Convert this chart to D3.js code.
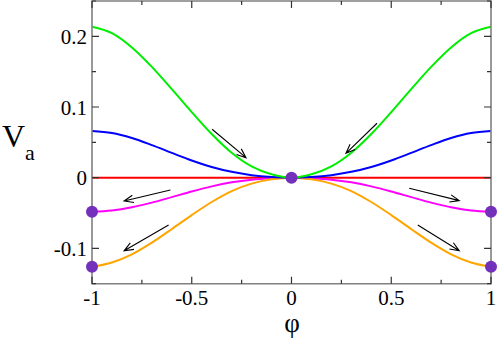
<!DOCTYPE html>
<html><head><meta charset="utf-8">
<script src="https://cdn.jsdelivr.net/npm/d3@7"></script>
<style>body{margin:0;background:#fff}</style>
</head><body>
<svg id="c" width="498" height="341"></svg>
<script>
const phi = [-1,-0.9,-0.8,-0.7,-0.6,-0.5,-0.4,-0.3,-0.2,-0.1,0,0.1,0.2,0.3,0.4,0.5,0.6,0.7,0.8,0.9,1];
const green   = [0.2137,0.2045,0.1843,0.1568,0.1253,0.0928,0.0618,0.0353,0.016,0.0048,0,0.0048,0.016,0.0353,0.0618,0.0928,0.1253,0.1568,0.1843,0.2045,0.2137];
const blue    = [0.066,0.0632,0.0561,0.0461,0.0351,0.0244,0.0152,0.0083,0.0036,0.001,0,0.001,0.0036,0.0083,0.0152,0.0244,0.0351,0.0461,0.0561,0.0632,0.066];
const red     = [0,0,0,0,0,0,0,0,0,0,0,0,0,0,0,0,0,0,0,0,0];
const magenta = [-0.0481,-0.0464,-0.0419,-0.0353,-0.0275,-0.0195,-0.0123,-0.0066,-0.0028,-0.0008,0,-0.0008,-0.0028,-0.0066,-0.0123,-0.0195,-0.0275,-0.0353,-0.0419,-0.0464,-0.0481];
const orange  = [-0.126,-0.1199,-0.1084,-0.0919,-0.0727,-0.0529,-0.0344,-0.0189,-0.0084,-0.0022,0,-0.0022,-0.0084,-0.0189,-0.0344,-0.0529,-0.0727,-0.0919,-0.1084,-0.1199,-0.126];
const dotX = [0,-1,-1,1,1];
const dotY = [0,-0.0481,-0.126,-0.0481,-0.126];
// arrows: [x1,y1,x2,y2] in data units (tail -> head)
const arrows = [
  [-0.398,0.0685,-0.228,0.0283],
  [0.4286,0.077,0.273,0.0345],
  [-0.607,-0.0174,-0.839,-0.033],
  [-0.616,-0.0669,-0.839,-0.1035],
  [0.590,-0.015,0.841,-0.0325],
  [0.633,-0.0669,0.841,-0.1035]
];
const xTicks = [-1,-0.5,0,0.5,1];
const xTickLabels = ["-1","-0.5","0","0.5","1"];
const xMinor = [-0.75,-0.25,0.25,0.75];
const yTicks = [-0.1,0,0.1,0.2];
const yTickLabels = ["-0.1","0","0.1","0.2"];
const yMinor = [-0.15,-0.05,0.05,0.15,0.25];

const svg = d3.select("#c");
const L=92, R=491, T=1, B=283.7;
const x = d3.scaleLinear().domain([-1,1]).range([L,R]);
const y = d3.scaleLinear().domain([-0.15,0.25]).range([B,T]);

function lab(px,py,txt,size,anchor){
  return svg.append("text").attr("x",px).attr("y",py).attr("font-size",size)
    .attr("text-anchor",anchor||"start").style("font-family",'"Liberation Serif"').text(txt);
}
xTicks.forEach((t,i)=>lab(x(t),305,xTickLabels[i],21,"middle"));
yTicks.forEach((t,i)=>lab(87,y(t)+7.5,yTickLabels[i],21,"end"));
lab(2,147,"V",32);
lab(25,160,"a",22);
lab(292,332,"φ",27,"middle");

const series = [
  {v:red,c:"#ff0000"},
  {v:magenta,c:"#ff00ff"},
  {v:orange,c:"#ffa500"},
  {v:blue,c:"#0000ff"},
  {v:green,c:"#00ee00"}
];
const line = d3.line().x((d,i)=>x(phi[i])).y(d=>y(d)).curve(d3.curveMonotoneX);
series.forEach(s=>{
  svg.append("path").attr("d",line(s.v)).attr("fill","none").attr("stroke",s.c).attr("stroke-width",2);
});

arrows.forEach(a=>{
  const x1=x(a[0]),y1=y(a[1]),x2=x(a[2]),y2=y(a[3]);
  const ang=Math.atan2(y2-y1,x2-x1), hl=10, ha=0.38;
  const p = `M${x1},${y1}L${x2},${y2}M${x2-hl*Math.cos(ang-ha)},${y2-hl*Math.sin(ang-ha)}L${x2},${y2}L${x2-hl*Math.cos(ang+ha)},${y2-hl*Math.sin(ang+ha)}`;
  svg.append("path").attr("d",p).attr("fill","none").attr("stroke","#000").attr("stroke-width",1.1);
});

svg.append("path").attr("d",`M${L},${T}H${R}V${B}H${L}Z`)
  .attr("fill","none").attr("stroke","#808080").attr("stroke-width",1.6);

const tickPaths = [];
xTicks.forEach(t=>{ tickPaths.push(`M${x(t)},${B}v-7M${x(t)},${T}v7`); });
xMinor.forEach(t=>{ tickPaths.push(`M${x(t)},${B}v-4M${x(t)},${T}v4`); });
yTicks.forEach(t=>{ tickPaths.push(`M${L},${y(t)}h7M${R},${y(t)}h-7`); });
yMinor.forEach(t=>{ tickPaths.push(`M${L},${y(t)}h4M${R},${y(t)}h-4`); });
svg.append("path").attr("d",tickPaths.join("")).attr("fill","none").attr("stroke","#333").attr("stroke-width",1.2);

dotX.forEach((d,i)=>{
  svg.append("circle").attr("cx",x(d)).attr("cy",y(dotY[i])).attr("r",6).attr("fill","#7330bb");
});
</script>
</body></html>
